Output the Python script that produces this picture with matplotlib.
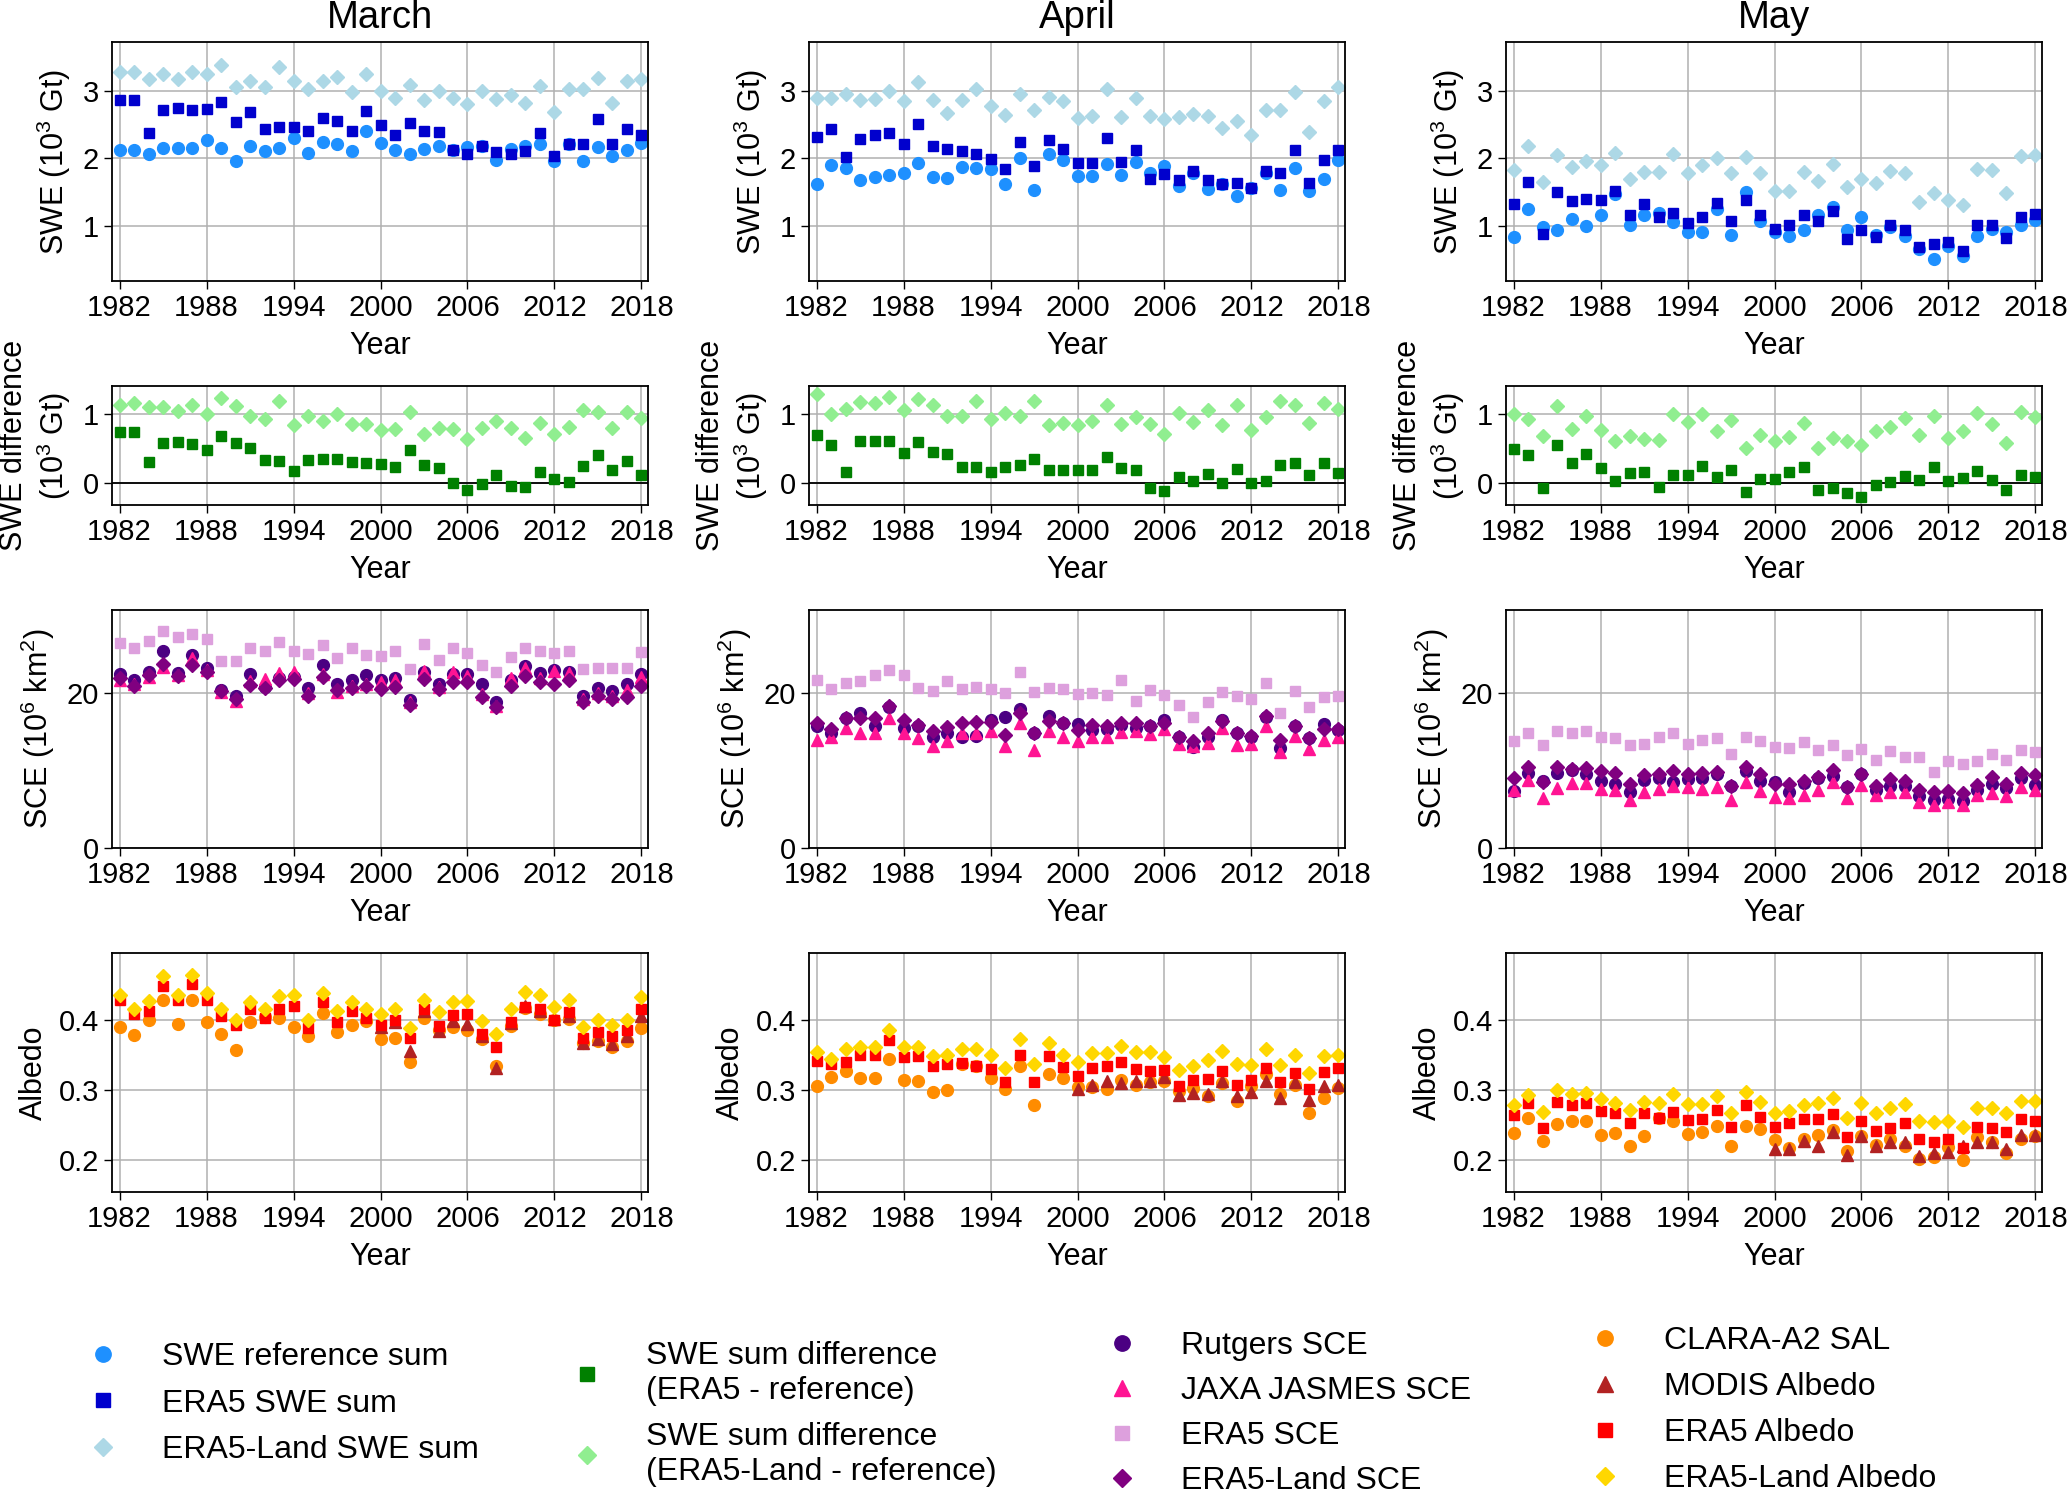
import matplotlib
matplotlib.use('Agg')
import matplotlib.pyplot as plt
from matplotlib.lines import Line2D

plt.rcParams['font.family'] = ['Liberation Sans', 'DejaVu Sans']
plt.rcParams['mathtext.fontset'] = 'custom'
plt.rcParams['mathtext.rm'] = 'Liberation Sans'
plt.rcParams['mathtext.default'] = 'regular'

years = list(range(1982, 2019))
modis_years = list(range(2000, 2019))
months = ['March', 'April', 'May']
xticks = [1982, 1988, 1994, 2000, 2006, 2012, 2018]

# ---- SWE sums (10^3 Gt) ----
swe_ref_mar = [2.13, 2.12, 2.07, 2.15, 2.15, 2.16, 2.27, 2.15, 1.96, 2.18,
               2.11, 2.16, 2.30, 2.08, 2.25, 2.21, 2.11, 2.40, 2.23, 2.12,
               2.06, 2.14, 2.19, 2.13, 2.17, 2.19, 1.98, 2.14, 2.19, 2.22,
               1.96, 2.22, 1.96, 2.17, 2.03, 2.12, 2.23]
swe_era5_mar = [2.86, 2.86, 2.38, 2.71, 2.74, 2.71, 2.73, 2.83, 2.54, 2.68,
                2.44, 2.47, 2.47, 2.41, 2.60, 2.56, 2.41, 2.70, 2.50, 2.35,
                2.53, 2.40, 2.39, 2.12, 2.07, 2.18, 2.10, 2.07, 2.11, 2.37,
                2.03, 2.22, 2.21, 2.58, 2.21, 2.44, 2.34]
swe_land_mar = [3.28, 3.28, 3.17, 3.24, 3.18, 3.28, 3.25, 3.38, 3.05, 3.14,
                3.05, 3.35, 3.14, 3.02, 3.14, 3.20, 2.98, 3.25, 3.00, 2.90,
                3.09, 2.86, 3.00, 2.90, 2.81, 3.00, 2.88, 2.93, 2.82, 3.07,
                2.68, 3.03, 3.03, 3.19, 2.82, 3.15, 3.17]
swe_ref_apr = [1.63, 1.90, 1.86, 1.68, 1.72, 1.76, 1.78, 1.93, 1.73, 1.71,
               1.88, 1.86, 1.84, 1.63, 2.00, 1.54, 2.07, 1.97, 1.74, 1.74,
               1.92, 1.75, 1.95, 1.79, 1.89, 1.60, 1.79, 1.55, 1.62, 1.44,
               1.56, 1.78, 1.53, 1.86, 1.52, 1.70, 1.97]
swe_era5_apr = [2.32, 2.43, 2.02, 2.29, 2.34, 2.37, 2.21, 2.51, 2.19, 2.14,
                2.11, 2.07, 1.99, 1.85, 2.25, 1.89, 2.27, 2.14, 1.93, 1.93,
                2.30, 1.95, 2.13, 1.69, 1.77, 1.68, 1.82, 1.68, 1.62, 1.64,
                1.57, 1.82, 1.78, 2.13, 1.64, 1.97, 2.12]
swe_land_apr = [2.90, 2.90, 2.95, 2.87, 2.88, 3.00, 2.85, 3.13, 2.86, 2.67,
                2.87, 3.02, 2.77, 2.64, 2.95, 2.72, 2.91, 2.85, 2.60, 2.62,
                3.02, 2.61, 2.90, 2.62, 2.59, 2.61, 2.66, 2.62, 2.45, 2.55,
                2.35, 2.72, 2.72, 2.98, 2.39, 2.85, 3.05]
swe_ref_may = [0.84, 1.25, 0.99, 0.95, 1.10, 1.00, 1.16, 1.47, 1.02, 1.16,
               1.20, 1.06, 0.91, 0.91, 1.25, 0.87, 1.51, 1.08, 0.91, 0.85,
               0.94, 1.17, 1.28, 0.95, 1.14, 0.87, 0.99, 0.85, 0.66, 0.52,
               0.71, 0.56, 0.85, 0.96, 0.92, 1.01, 1.09]
swe_era5_may = [1.33, 1.65, 0.88, 1.51, 1.37, 1.40, 1.38, 1.52, 1.16, 1.32,
                1.13, 1.20, 1.04, 1.14, 1.34, 1.07, 1.38, 1.16, 0.96, 1.01,
                1.17, 1.07, 1.22, 0.81, 0.95, 0.84, 1.01, 0.95, 0.69, 0.74,
                0.76, 0.64, 1.01, 1.02, 0.82, 1.13, 1.18]
swe_land_may = [1.83, 2.18, 1.65, 2.05, 1.88, 1.96, 1.91, 2.08, 1.70, 1.80,
                1.80, 2.06, 1.79, 1.90, 2.01, 1.79, 2.02, 1.79, 1.52, 1.52,
                1.80, 1.66, 1.92, 1.58, 1.70, 1.64, 1.81, 1.79, 1.35, 1.49,
                1.38, 1.31, 1.85, 1.83, 1.49, 2.04, 2.05]

# ---- SWE sum differences (10^3 Gt) ----
diff_era5_mar = [0.73, 0.74, 0.30, 0.57, 0.59, 0.56, 0.47, 0.68, 0.58, 0.50,
                 0.33, 0.32, 0.17, 0.33, 0.34, 0.34, 0.30, 0.29, 0.27, 0.23,
                 0.47, 0.26, 0.22, 0.00, -0.10, -0.02, 0.12, -0.05, -0.06, 0.16,
                 0.06, 0.01, 0.25, 0.40, 0.18, 0.31, 0.12]
diff_land_mar = [1.13, 1.15, 1.10, 1.10, 1.04, 1.12, 1.00, 1.23, 1.11, 0.96,
                 0.93, 1.18, 0.84, 0.96, 0.89, 1.00, 0.85, 0.85, 0.77, 0.78,
                 1.03, 0.70, 0.80, 0.78, 0.63, 0.80, 0.90, 0.80, 0.65, 0.87,
                 0.71, 0.81, 1.06, 1.02, 0.79, 1.02, 0.94]
diff_era5_apr = [0.69, 0.54, 0.15, 0.61, 0.61, 0.61, 0.43, 0.59, 0.45, 0.42,
                 0.23, 0.23, 0.15, 0.23, 0.26, 0.35, 0.19, 0.18, 0.19, 0.19,
                 0.38, 0.21, 0.18, -0.07, -0.12, 0.09, 0.02, 0.13, 0.00, 0.20,
                 0.00, 0.03, 0.26, 0.29, 0.12, 0.28, 0.14]
diff_land_apr = [1.28, 1.00, 1.07, 1.17, 1.15, 1.24, 1.06, 1.21, 1.13, 0.97,
                 0.97, 1.18, 0.93, 1.01, 0.96, 1.18, 0.83, 0.87, 0.83, 0.89,
                 1.12, 0.85, 0.95, 0.85, 0.71, 1.01, 0.88, 1.06, 0.83, 1.12,
                 0.77, 0.95, 1.18, 1.12, 0.86, 1.15, 1.07]
diff_era5_may = [0.49, 0.40, -0.07, 0.55, 0.28, 0.41, 0.22, 0.02, 0.14, 0.16,
                 -0.06, 0.12, 0.12, 0.24, 0.08, 0.19, -0.13, 0.05, 0.05, 0.15,
                 0.23, -0.11, -0.07, -0.14, -0.21, -0.03, 0.01, 0.10, 0.04, 0.23,
                 0.02, 0.07, 0.17, 0.04, -0.10, 0.12, 0.09]
diff_land_may = [1.00, 0.93, 0.68, 1.11, 0.78, 0.96, 0.76, 0.61, 0.68, 0.64,
                 0.62, 0.99, 0.88, 1.00, 0.75, 0.91, 0.50, 0.69, 0.60, 0.66,
                 0.86, 0.50, 0.65, 0.61, 0.54, 0.75, 0.81, 0.94, 0.69, 0.96,
                 0.65, 0.75, 1.01, 0.85, 0.57, 1.02, 0.95]

# ---- snow cover extent (10^6 km2) ----
sce_rutgers_mar = [22.5, 21.7, 22.8, 25.5, 22.6, 25.0, 23.2, 20.4, 19.6, 22.5,
                   20.8, 21.9, 22.1, 20.7, 23.6, 21.2, 21.7, 22.3, 21.7, 22.0,
                   19.1, 22.8, 21.2, 22.5, 22.5, 21.2, 18.8, 21.7, 23.5, 22.6,
                   23.0, 22.8, 19.6, 20.7, 20.3, 21.2, 22.5]
sce_jaxa_mar = [21.7, 21.2, 22.1, 23.4, 22.4, 24.5, 23.0, 20.1, 19.0, 21.6,
                21.8, 22.6, 22.8, 20.0, 22.5, 20.2, 20.9, 21.2, 21.5, 21.7,
                18.8, 22.9, 20.8, 22.8, 22.2, 19.9, 18.4, 21.9, 23.2, 22.0,
                22.9, 22.6, 19.2, 20.0, 19.6, 20.4, 22.1]
sce_era5_mar = [26.5, 25.8, 26.8, 28.0, 27.3, 27.6, 27.0, 24.2, 24.2, 25.9,
                25.5, 26.6, 25.5, 25.1, 26.2, 24.6, 25.9, 24.9, 24.8, 25.4,
                23.1, 26.3, 24.3, 25.8, 25.2, 23.7, 22.8, 24.7, 25.9, 25.4,
                25.2, 25.5, 23.1, 23.3, 23.3, 23.3, 25.3]
sce_land_mar = [22.0, 20.9, 22.3, 23.8, 22.2, 23.7, 22.8, 20.3, 19.3, 21.1,
                20.7, 21.7, 21.8, 19.7, 22.1, 20.4, 20.7, 20.9, 20.6, 20.8,
                18.5, 21.8, 20.5, 21.5, 21.5, 19.5, 18.2, 20.9, 22.2, 21.5,
                21.2, 21.7, 18.8, 19.7, 19.3, 19.5, 20.9]
sce_rutgers_apr = [15.7, 14.8, 16.8, 17.5, 15.7, 18.2, 15.5, 15.7, 14.4, 14.9,
                   14.3, 14.5, 16.5, 16.9, 17.9, 14.8, 17.0, 16.1, 16.0, 15.3,
                   15.4, 15.9, 15.5, 15.8, 16.6, 14.4, 13.1, 14.3, 16.6, 14.8,
                   14.3, 16.9, 12.9, 15.7, 14.2, 16.0, 15.3]
sce_jaxa_apr = [13.9, 14.4, 15.5, 14.9, 14.8, 16.8, 14.8, 14.2, 13.2, 13.8,
                14.9, 14.9, 15.1, 13.2, 16.1, 12.7, 15.1, 14.4, 13.8, 14.4,
                14.3, 15.0, 15.1, 14.7, 15.4, 13.5, 13.2, 13.6, 15.5, 13.3,
                13.5, 15.7, 12.4, 14.5, 12.8, 14.0, 14.3]
sce_era5_apr = [21.7, 20.6, 21.3, 21.6, 22.3, 23.0, 22.3, 20.7, 20.3, 21.6,
                20.5, 20.8, 20.5, 20.0, 22.7, 20.2, 20.7, 20.6, 19.9, 20.0,
                19.8, 21.7, 19.0, 20.4, 19.8, 18.5, 16.9, 18.8, 20.1, 19.7,
                19.3, 21.3, 17.5, 20.3, 18.2, 19.5, 19.6]
sce_land_apr = [16.1, 15.4, 16.8, 16.8, 16.8, 18.3, 16.6, 15.9, 15.1, 15.6,
                16.1, 16.3, 16.3, 14.6, 17.5, 14.8, 16.4, 16.1, 15.3, 15.9,
                15.7, 16.2, 16.1, 15.8, 16.1, 14.4, 13.8, 14.8, 16.4, 14.8,
                14.5, 17.0, 13.9, 15.7, 14.2, 15.4, 15.4]
sce_rutgers_may = [7.4, 9.7, 8.6, 9.7, 10.1, 9.6, 8.6, 8.3, 7.2, 8.8,
                   9.0, 8.5, 8.9, 9.0, 9.5, 8.0, 9.9, 8.7, 8.5, 7.2,
                   8.4, 9.0, 9.3, 7.9, 9.5, 7.5, 8.0, 8.0, 6.7, 6.2,
                   6.3, 6.1, 7.5, 8.3, 7.7, 9.0, 8.1]
sce_jaxa_may = [7.5, 8.8, 6.5, 7.7, 8.4, 8.4, 7.6, 7.5, 6.2, 7.2,
                7.6, 8.0, 7.9, 7.6, 7.9, 6.2, 8.5, 7.4, 6.6, 6.5,
                6.9, 7.5, 8.5, 6.5, 8.1, 6.8, 7.2, 7.2, 5.9, 5.6,
                5.9, 5.5, 6.8, 7.1, 6.7, 7.9, 7.5]
sce_era5_may = [13.8, 14.8, 13.3, 15.1, 14.9, 15.1, 14.4, 14.2, 13.3, 13.5,
                14.4, 14.8, 13.5, 13.9, 14.2, 12.1, 14.3, 13.8, 13.1, 12.9,
                13.7, 12.7, 13.3, 12.0, 12.8, 11.4, 12.5, 11.7, 11.7, 9.8,
                11.3, 10.8, 11.2, 12.2, 11.4, 12.7, 12.4]
sce_land_may = [9.1, 10.5, 8.5, 10.5, 10.2, 10.3, 10.0, 9.7, 8.3, 9.4,
                9.6, 10.0, 9.5, 9.7, 9.8, 8.0, 10.5, 9.5, 8.3, 8.3,
                8.7, 9.2, 10.1, 7.9, 9.5, 8.0, 8.9, 8.6, 7.5, 7.2,
                7.3, 7.1, 8.2, 9.2, 8.3, 9.7, 9.4]

# ---- albedo ----
alb_clara_mar = [0.391, 0.379, 0.401, 0.429, 0.395, 0.430, 0.398, 0.380, 0.357, 0.398,
                 0.405, 0.403, 0.390, 0.377, 0.411, 0.384, 0.393, 0.399, 0.374, 0.375,
                 0.341, 0.403, 0.386, 0.391, 0.386, 0.373, 0.335, 0.392, 0.418, 0.410,
                 0.401, 0.402, 0.368, 0.370, 0.362, 0.370, 0.389]
alb_modis_mar = [0.391, 0.398, 0.356, 0.413, 0.385, 0.399, 0.395, 0.378, 0.331, 0.397,
                 0.421, 0.413, 0.402, 0.406, 0.368, 0.374, 0.366, 0.378, 0.406]
alb_era5_mar = [0.430, 0.409, 0.414, 0.450, 0.429, 0.453, 0.429, 0.407, 0.394, 0.417,
                0.404, 0.416, 0.421, 0.389, 0.426, 0.398, 0.413, 0.404, 0.394, 0.401,
                0.375, 0.417, 0.392, 0.408, 0.409, 0.380, 0.362, 0.398, 0.420, 0.417,
                0.401, 0.412, 0.375, 0.384, 0.377, 0.386, 0.417]
alb_land_mar = [0.437, 0.416, 0.428, 0.464, 0.437, 0.465, 0.440, 0.416, 0.400, 0.426,
                0.417, 0.435, 0.437, 0.401, 0.440, 0.414, 0.427, 0.417, 0.409, 0.417,
                0.389, 0.430, 0.412, 0.427, 0.428, 0.399, 0.381, 0.416, 0.441, 0.436,
                0.419, 0.429, 0.391, 0.401, 0.393, 0.401, 0.434]
alb_clara_apr = [0.306, 0.319, 0.327, 0.317, 0.317, 0.344, 0.315, 0.313, 0.297, 0.300,
                 0.338, 0.335, 0.317, 0.301, 0.335, 0.278, 0.323, 0.318, 0.305, 0.305,
                 0.302, 0.315, 0.307, 0.311, 0.313, 0.299, 0.303, 0.291, 0.310, 0.285,
                 0.306, 0.323, 0.295, 0.308, 0.267, 0.288, 0.303]
alb_modis_apr = [0.302, 0.308, 0.313, 0.310, 0.313, 0.313, 0.319, 0.293, 0.296, 0.295,
                 0.313, 0.292, 0.297, 0.313, 0.289, 0.311, 0.286, 0.306, 0.308]
alb_era5_apr = [0.342, 0.337, 0.340, 0.350, 0.350, 0.372, 0.348, 0.349, 0.334, 0.337,
                0.339, 0.335, 0.330, 0.312, 0.351, 0.312, 0.349, 0.333, 0.320, 0.332,
                0.335, 0.340, 0.330, 0.328, 0.329, 0.306, 0.314, 0.316, 0.328, 0.307,
                0.314, 0.332, 0.311, 0.325, 0.301, 0.326, 0.331]
alb_land_apr = [0.355, 0.345, 0.359, 0.362, 0.362, 0.386, 0.362, 0.362, 0.349, 0.350,
                0.359, 0.359, 0.351, 0.331, 0.373, 0.337, 0.367, 0.351, 0.341, 0.353,
                0.353, 0.363, 0.354, 0.355, 0.348, 0.329, 0.335, 0.343, 0.356, 0.337,
                0.336, 0.359, 0.336, 0.350, 0.325, 0.349, 0.351]
alb_clara_may = [0.239, 0.260, 0.227, 0.251, 0.255, 0.255, 0.236, 0.239, 0.219, 0.234,
                 0.260, 0.255, 0.237, 0.240, 0.249, 0.219, 0.249, 0.244, 0.228, 0.217,
                 0.229, 0.236, 0.242, 0.212, 0.234, 0.221, 0.230, 0.219, 0.201, 0.204,
                 0.218, 0.199, 0.233, 0.226, 0.210, 0.229, 0.234]
alb_modis_may = [0.216, 0.216, 0.227, 0.220, 0.240, 0.207, 0.234, 0.219, 0.225, 0.225,
                 0.205, 0.210, 0.211, 0.220, 0.225, 0.225, 0.216, 0.236, 0.235]
alb_era5_may = [0.264, 0.282, 0.245, 0.283, 0.278, 0.281, 0.270, 0.267, 0.253, 0.267,
                0.260, 0.268, 0.257, 0.258, 0.271, 0.247, 0.278, 0.262, 0.247, 0.252,
                0.259, 0.259, 0.265, 0.233, 0.255, 0.241, 0.246, 0.253, 0.230, 0.225,
                0.230, 0.217, 0.247, 0.245, 0.240, 0.258, 0.255]
alb_land_may = [0.278, 0.293, 0.269, 0.300, 0.295, 0.296, 0.287, 0.282, 0.271, 0.283,
                0.282, 0.294, 0.280, 0.280, 0.291, 0.267, 0.297, 0.283, 0.267, 0.270,
                0.279, 0.282, 0.289, 0.260, 0.282, 0.267, 0.274, 0.280, 0.256, 0.254,
                0.256, 0.247, 0.274, 0.274, 0.267, 0.285, 0.284]

# (label, x-years, [mar, apr, may], marker, colour) per row, drawn in this order
rows = [
    [('SWE reference sum', years, [swe_ref_mar, swe_ref_apr, swe_ref_may], 'o', 'dodgerblue'),
     ('ERA5 SWE sum', years, [swe_era5_mar, swe_era5_apr, swe_era5_may], 's', 'mediumblue'),
     ('ERA5-Land SWE sum', years, [swe_land_mar, swe_land_apr, swe_land_may], 'D', 'lightblue')],
    [('SWE sum difference\n(ERA5 - reference)', years, [diff_era5_mar, diff_era5_apr, diff_era5_may], 's', 'green'),
     ('SWE sum difference\n(ERA5-Land - reference)', years, [diff_land_mar, diff_land_apr, diff_land_may], 'D', 'lightgreen')],
    [('Rutgers SCE', years, [sce_rutgers_mar, sce_rutgers_apr, sce_rutgers_may], 'o', 'indigo'),
     ('JAXA JASMES SCE', years, [sce_jaxa_mar, sce_jaxa_apr, sce_jaxa_may], '^', 'deeppink'),
     ('ERA5 SCE', years, [sce_era5_mar, sce_era5_apr, sce_era5_may], 's', 'plum'),
     ('ERA5-Land SCE', years, [sce_land_mar, sce_land_apr, sce_land_may], 'D', 'purple')],
    [('CLARA-A2 SAL', years, [alb_clara_mar, alb_clara_apr, alb_clara_may], 'o', 'darkorange'),
     ('MODIS Albedo', modis_years, [alb_modis_mar, alb_modis_apr, alb_modis_may], '^', 'firebrick'),
     ('ERA5 Albedo', years, [alb_era5_mar, alb_era5_apr, alb_era5_may], 's', 'red'),
     ('ERA5-Land Albedo', years, [alb_land_mar, alb_land_apr, alb_land_may], 'D', 'gold')],
]
ylabels = ['SWE (10$^3$ Gt)', 'SWE difference\n(10$^3$ Gt)', 'SCE (10$^6$ km$^2$)', 'Albedo']
ylims = [(0.19, 3.72), (-0.32, 1.40), (0, 30.75), (0.1535, 0.497)]
yticks = [[1, 2, 3], [0, 1], [0, 20], [0.2, 0.3, 0.4]]
msize = {'o': 8.5, 's': 7.5, 'D': 7, '^': 8.5}

W, H = 2067, 1501
fig = plt.figure(figsize=(W / 100, H / 100), dpi=100)
lefts = [112, 809, 1506]
tops = [42, 386, 610, 953]
heights = [239, 119, 238, 239]
aw = 536

for r in range(4):
    for c in range(3):
        ax = fig.add_axes([lefts[c] / W, 1 - (tops[r] + heights[r]) / H, aw / W, heights[r] / H])
        ax.grid(True, color='#b0b0b0', lw=1.1)
        ax.set_axisbelow(True)
        if r == 1:
            ax.axhline(0, color='black', lw=1.3, zorder=1.8)
        for lab, xs, vals, m, col in rows[r]:
            ax.plot(xs, vals[c], ls='none', marker=m, ms=msize[m], color=col, mec=col)
        ax.set_xlim(1981.48, 2018.45)
        ax.set_xticks(xticks)
        ax.set_ylim(ylims[r])
        ax.set_yticks(yticks[r])
        ax.tick_params(labelsize=21, length=6, width=1)
        for s in ax.spines.values():
            s.set_linewidth(1.3)
        ax.set_xlabel('Year', fontsize=22, labelpad=6)
        ax.set_ylabel(ylabels[r], fontsize=22, labelpad=7)
        if r == 0:
            ax.set_title(months[c], fontsize=27.5, pad=10)

# legends, one block per row of panels
leg_x = [71, 555, 1090, 1573]
leg_top = [1342, 1341, 1331, 1326]
leg_space = [0.52, 0.52, 0.47, 0.5]
for r in range(4):
    handles = []
    labels = []
    for lab, xs, vals, m, col in rows[r]:
        handles.append(Line2D([], [], ls='none', marker=m, ms=msize[m], color=col, mec=col))
        labels.append(lab)
    fig.legend(handles, labels, loc='upper left',
               bbox_to_anchor=(leg_x[r] / W, 1 - leg_top[r] / H),
               frameon=False, fontsize=23, borderpad=0, borderaxespad=0,
               handletextpad=0.85, labelspacing=leg_space[r], handlelength=2.0,
               markerscale=1.3)

fig.savefig('out.png', dpi=100)
